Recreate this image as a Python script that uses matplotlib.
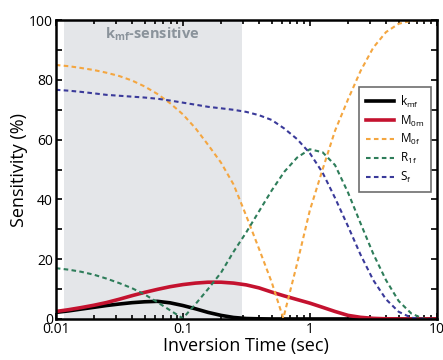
import matplotlib.pyplot as plt
from matplotlib.ticker import FixedLocator, LogLocator, NullFormatter

plt.rcParams["font.family"] = ["Open Sans", "DejaVu Sans"]
plt.rcParams["mathtext.default"] = "regular"

# inversion times (0.1 decade steps)
t_grid = [0.01, 0.0126, 0.0158, 0.02, 0.0251, 0.0316, 0.0398, 0.0501, 0.0631, 0.0794,
          0.1, 0.126, 0.158, 0.2, 0.251, 0.316, 0.398, 0.501, 0.631, 0.794,
          1, 1.26, 1.58, 2, 2.51, 3.16, 3.98, 5.01, 6.31, 7.94, 10]

# sensitivity (%)
kmf_s = [2.2, 2.7, 3.3, 3.9, 4.5, 5.0, 5.45, 5.75, 5.9, 5.4,
         4.5, 3.4, 2.2, 1.2, 0.5, 0.15, 0.05, 0, 0, 0,
         0, 0, 0, 0, 0, 0, 0, 0, 0, 0, 0]
m0m_s = [2.5, 3.1, 3.8, 4.6, 5.5, 6.6, 7.8, 8.9, 9.9, 10.8,
         11.5, 12.0, 12.3, 12.3, 12.0, 11.4, 10.4, 9.0, 7.7, 6.5,
         5.3, 3.9, 2.5, 1.2, 0.55, 0.2, 0.05, 0, 0, 0, 0]
r1f_s = [17, 16.5, 15.8, 14.8, 13.5, 12, 10.3, 8.2, 5.6, 2.9,
         0.2, 5, 10, 15.5, 22.5, 29, 36, 43, 49.3, 54,
         56.8, 55.8, 51.5, 42.3, 32, 21.8, 13, 6, 1.8, 0, 0]
sf_s = [76.7, 76.4, 76.0, 75.5, 75.0, 74.7, 74.4, 74.1, 73.7, 73.1,
        72.4, 71.7, 71.0, 70.5, 70.0, 69.3, 68.2, 66.6, 63.7, 60.2,
        55.5, 49, 40.5, 31, 21.5, 13, 6.6, 2.4, 0.4, 0, 0]

# M0f has its dip between grid points
m0f_t = [0.01, 0.0126, 0.0158, 0.02, 0.0251, 0.0316, 0.0398, 0.0501, 0.0631, 0.0794,
         0.1, 0.126, 0.158, 0.2, 0.251, 0.316, 0.398, 0.501, 0.617, 0.631, 0.794,
         1, 1.26, 1.58, 2, 2.51, 3.16, 3.98, 5.01, 6.31, 7.94, 10]
m0f_s = [85, 84.6, 84.0, 83.3, 82.4, 81.3, 79.8, 77.8, 75.3, 72.2,
         68.5, 63.8, 58.3, 52.3, 45, 34.5, 23.5, 12.3, 0.3, 1.7, 18.5,
         36.3, 50, 63, 73.5, 83, 90.8, 96, 98.8, 99.8, 100, 100]

shade_t = [0.0115, 0.29]

fig = plt.figure(figsize=(4.43, 3.6), dpi=100)
ax = fig.add_axes([0.126, 0.114, 0.86, 0.83])

ax.axvspan(shade_t[0], shade_t[1], color="#e4e6e9", lw=0, zorder=0)
ax.text(0.058, 95.4, r"k$_{mf}$-sensitive", color="#8a939b", fontsize=10.5,
        fontweight="bold", ha="center", va="center")

dash = (0, (2.2, 1.6))
ax.plot(t_grid, kmf_s, color="black", lw=2.6, label=r"k$_{mf}$")
ax.plot(t_grid, m0m_s, color="#c4122f", lw=2.6, label=r"M$_{0m}$")
ax.plot(m0f_t, m0f_s, color="#f4a640", lw=1.5, ls=dash, label=r"M$_{0f}$")
ax.plot(t_grid, r1f_s, color="#2e7d5a", lw=1.5, ls=dash, label=r"R$_{1f}$")
ax.plot(t_grid, sf_s, color="#3a3a9a", lw=1.5, ls=dash, label=r"S$_{f}$")

ax.set_xscale("log")
ax.set_xlim(0.01, 10)
ax.set_ylim(0, 100)
ax.set_xticks([0.01, 0.1, 1, 10])
ax.set_xticklabels(["0.01", "0.1", "1", "10"])
ax.xaxis.set_minor_locator(LogLocator(base=10, subs=range(2, 10)))
ax.xaxis.set_minor_formatter(NullFormatter())
ax.set_yticks([0, 20, 40, 60, 80, 100])
ax.yaxis.set_minor_locator(FixedLocator([10, 30, 50, 70, 90]))

ax.tick_params(which="both", direction="in", top=True, right=True, width=1.2, labelsize=10, pad=2)
ax.tick_params(which="major", length=4)
ax.tick_params(which="minor", length=3)
ax.tick_params(axis="y", which="minor", length=4)
for s in ax.spines.values():
    s.set_linewidth(1.8)

ax.set_xlabel("Inversion Time (sec)", fontsize=13, labelpad=0)
ax.set_ylabel("Sensitivity (%)", fontsize=13, labelpad=1)

leg = ax.legend(loc="upper right", bbox_to_anchor=(0.984, 0.776), borderaxespad=0,
                fontsize=8.5, fancybox=False, framealpha=1, edgecolor="#6e6e6e",
                handlelength=2.4, labelspacing=0.32, borderpad=0.55, handletextpad=0.5)
leg.get_frame().set_linewidth(1.2)

plt.savefig("out.png", dpi=100)
print("Saved: out.png")
